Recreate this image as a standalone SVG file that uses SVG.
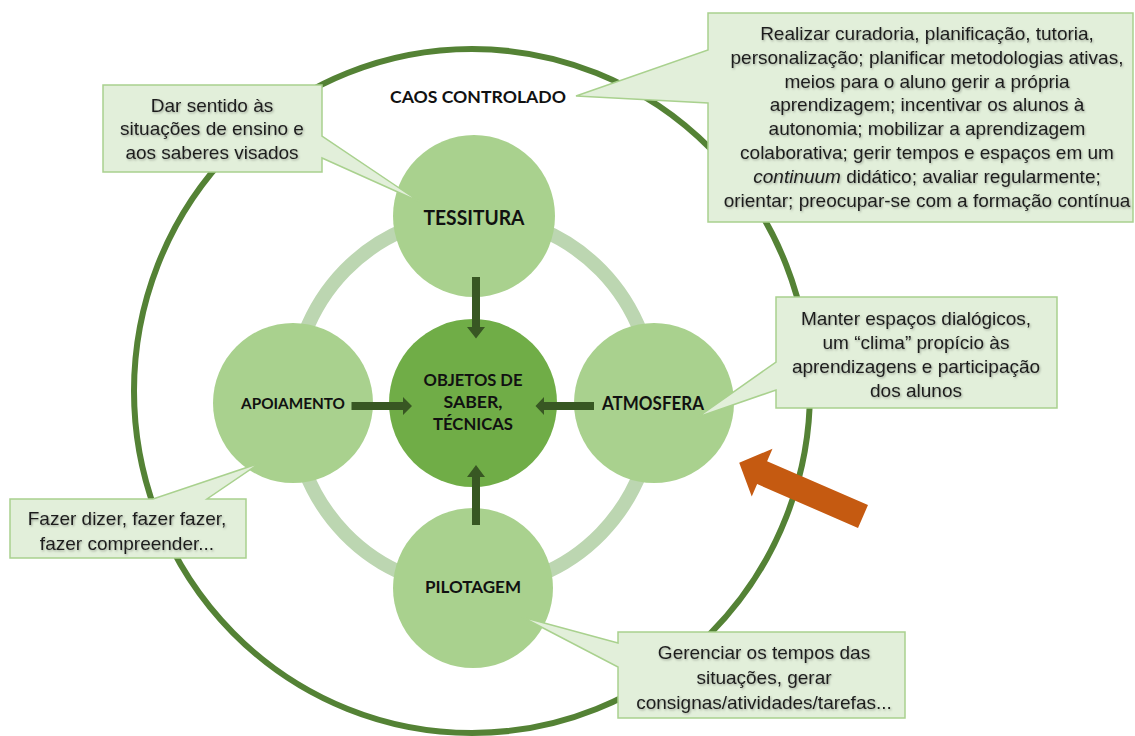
<svg xmlns="http://www.w3.org/2000/svg" width="1135" height="736" viewBox="0 0 1135 736">
  <defs>
    <style>
      .ring-outer { fill: none; stroke: #548235; stroke-width: 6; }
      .ring-inner { fill: none; stroke: #bcd6b1; stroke-width: 14; }
      .node { fill: #a9d18e; }
      .core { fill: #70ad47; }
      .arrow { fill: #385723; }
      .callout { fill: #e2efda; stroke: #a9d18e; stroke-width: 1.5; stroke-linejoin: miter; }
      .ctext { font-family: "Liberation Sans", Arial, sans-serif; font-size: 19px; fill: #1f1f1f; text-anchor: middle; }
      .label { font-family: Lato, "Open Sans", sans-serif; font-weight: bold; fill: #111; text-anchor: middle; }
      .orange { fill: #c55a11; }
    </style>
    <filter id="sh" x="-10%" y="-30%" width="120%" height="160%">
      <feDropShadow dx="1" dy="1.2" stdDeviation="0.9" flood-color="#000" flood-opacity="0.3"/>
    </filter>
  </defs>
  <rect width="1135" height="736" fill="#ffffff"/>

  <g id="caos-controlado">
    <ellipse class="ring-outer" cx="472" cy="391" rx="338" ry="342"/>
    <text class="label" x="478" y="103" font-size="17" textLength="176" lengthAdjust="spacingAndGlyphs">CAOS CONTROLADO</text>
  </g>

  <ellipse id="inner-ring" class="ring-inner" cx="473" cy="402" rx="181" ry="186"/>

  <g id="tessitura">
    <circle class="node" cx="474" cy="216" r="81"/>
    <text class="label" x="474" y="225" font-size="20" textLength="101" lengthAdjust="spacingAndGlyphs">TESSITURA</text>
  </g>
  <g id="apoiamento">
    <circle class="node" cx="293" cy="403" r="80"/>
    <text class="label" x="293" y="409" font-size="16" textLength="104" lengthAdjust="spacingAndGlyphs">APOIAMENTO</text>
  </g>
  <g id="atmosfera">
    <circle class="node" cx="654" cy="403" r="80"/>
    <text class="label" x="653" y="410" font-size="18" textLength="102" lengthAdjust="spacingAndGlyphs">ATMOSFERA</text>
  </g>
  <g id="pilotagem">
    <circle class="node" cx="473" cy="588" r="80"/>
    <text class="label" x="473" y="593" font-size="17" textLength="96" lengthAdjust="spacingAndGlyphs">PILOTAGEM</text>
  </g>
  <g id="objetos">
    <circle class="core" cx="473" cy="403" r="84"/>
    <text class="label" x="473" y="386" font-size="17" textLength="99" lengthAdjust="spacingAndGlyphs">OBJETOS DE</text>
    <text class="label" x="473" y="408" font-size="17" textLength="59" lengthAdjust="spacingAndGlyphs">SABER,</text>
    <text class="label" x="473" y="430" font-size="17" textLength="80" lengthAdjust="spacingAndGlyphs">TÉCNICAS</text>
  </g>

  <g id="connectors">
    <polygon class="arrow" points="472,277 480,277 480,327 485,327 476,338.5 467,327 472,327"/>
    <polygon class="arrow" points="472,525 480,525 480,477 485,477 476,465 467,477 472,477"/>
    <polygon class="arrow" points="351.5,402 403,402 403,397 412,406 403,415 403,410 351.5,410"/>
    <polygon class="arrow" points="594,402 544,402 544,397 535.5,406 544,415 544,410 594,410"/>
  </g>

  <g id="callout-tessitura">
    <path class="callout" d="M103,85 H322 V136 L420,202 L322,158 V172 H103 Z"/>
    <g class="ctext" filter="url(#sh)">
      <text x="212" y="112">Dar sentido às</text>
      <text x="212" y="135">situações de ensino e</text>
      <text x="212" y="158.5">aos saberes visados</text>
    </g>
  </g>

  <g id="callout-caos">
    <path class="callout" d="M708,13 H1133 V222 H708 V103 L576,96 L708,50 Z"/>
    <g class="ctext" filter="url(#sh)">
      <text x="927" y="40">Realizar curadoria, planificação, tutoria,</text>
      <text x="927" y="63.8">personalização; planificar metodologias ativas,</text>
      <text x="927" y="87.6">meios para o aluno gerir a própria</text>
      <text x="927" y="111.4">aprendizagem; incentivar os alunos à</text>
      <text x="927" y="135.2">autonomia; mobilizar a aprendizagem</text>
      <text x="927" y="159">colaborativa; gerir tempos e espaços em um</text>
      <text x="927" y="182.8"><tspan font-style="italic">continuum</tspan> didático; avaliar regularmente;</text>
      <text x="927" y="206.6">orientar; preocupar-se com a formação contínua</text>
    </g>
  </g>

  <g id="callout-atmosfera">
    <path class="callout" d="M776,297 H1057 V408 H776 V390 L698,417 L776,362 Z"/>
    <g class="ctext" filter="url(#sh)">
      <text x="916" y="325">Manter espaços dialógicos,</text>
      <text x="916" y="348.5">um “clima” propício às</text>
      <text x="916" y="372.5">aprendizagens e participação</text>
      <text x="916" y="396.5">dos alunos</text>
    </g>
  </g>

  <g id="callout-apoiamento">
    <path class="callout" d="M10,499 H153 L260,463 L207,499 H246 V558 H10 Z"/>
    <g class="ctext" filter="url(#sh)">
      <text x="127" y="525">Fazer dizer, fazer fazer,</text>
      <text x="127" y="549.5">fazer compreender...</text>
    </g>
  </g>

  <g id="callout-pilotagem">
    <path class="callout" d="M618,632 H905 V718 H618 V667 L522,617 L618,643 Z"/>
    <g class="ctext" filter="url(#sh)">
      <text x="764" y="658.5">Gerenciar os tempos das</text>
      <text x="764" y="683.5">situações, gerar</text>
      <text x="764" y="708.5">consignas/atividades/tarefas...</text>
    </g>
  </g>

  <g id="orange-arrow">
    <polygon class="orange" transform="translate(863,516.5) rotate(203.5)" points="0,-12.5 110,-12.5 110,-26 135,0 110,26 110,12.5 0,12.5"/>
  </g>
</svg>
